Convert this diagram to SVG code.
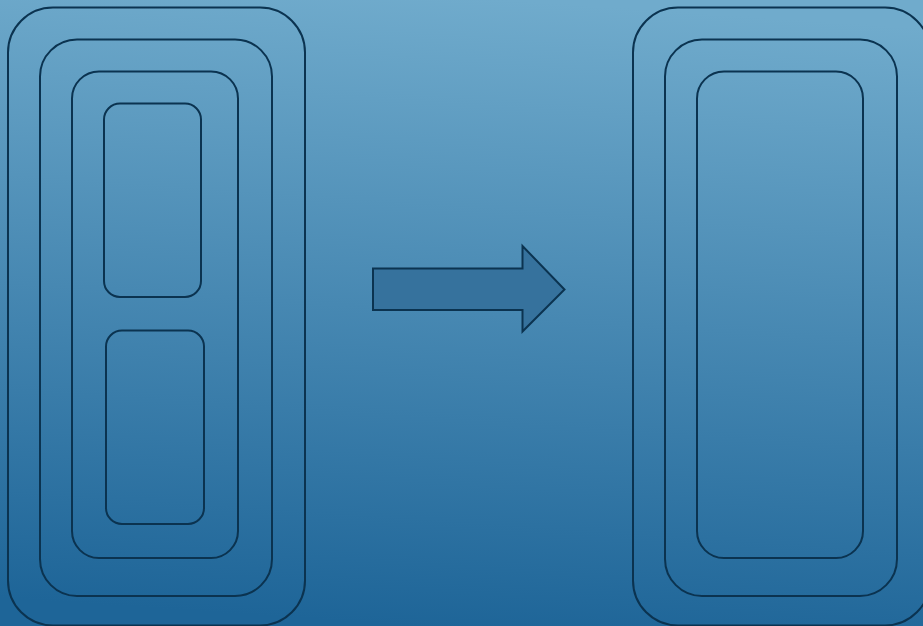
<svg xmlns="http://www.w3.org/2000/svg" width="923" height="626" viewBox="0 0 923 626">
<defs>
<linearGradient id="bg" x1="0.55" y1="0" x2="0.45" y2="1">
<stop offset="0" stop-color="#70abcc"/>
<stop offset="1" stop-color="#1e6598"/>
</linearGradient>
<style>
.b{fill:none;stroke:#0b3350;stroke-width:2}
.arr{fill:#36729d;stroke:#0b3350;stroke-width:2;stroke-linejoin:miter}
</style>
</defs>
<rect width="923" height="626" fill="url(#bg)"/>
<g id="left">
<rect class="b" x="8" y="7.5" width="297" height="618" rx="45"/>
<rect class="b" x="40" y="39.5" width="232" height="556.5" rx="37"/>
<rect class="b" x="72" y="71.5" width="166" height="486.5" rx="27"/>
<rect class="b" x="104" y="103.5" width="97" height="193.5" rx="16"/>
<rect class="b" x="106" y="330.5" width="98" height="193.5" rx="16"/>
</g>
<g id="connectors">
<polygon class="arr" points="373,268.5 522.5,268.5 522.5,246 564.5,289.5 522.5,331.5 522.5,310 373,310"/>
</g>
<g id="right">
<rect class="b" x="633" y="7.5" width="297" height="618" rx="45"/>
<rect class="b" x="665" y="39.5" width="232" height="556.5" rx="37"/>
<rect class="b" x="697" y="71.5" width="166" height="486.5" rx="27"/>
</g>
</svg>
